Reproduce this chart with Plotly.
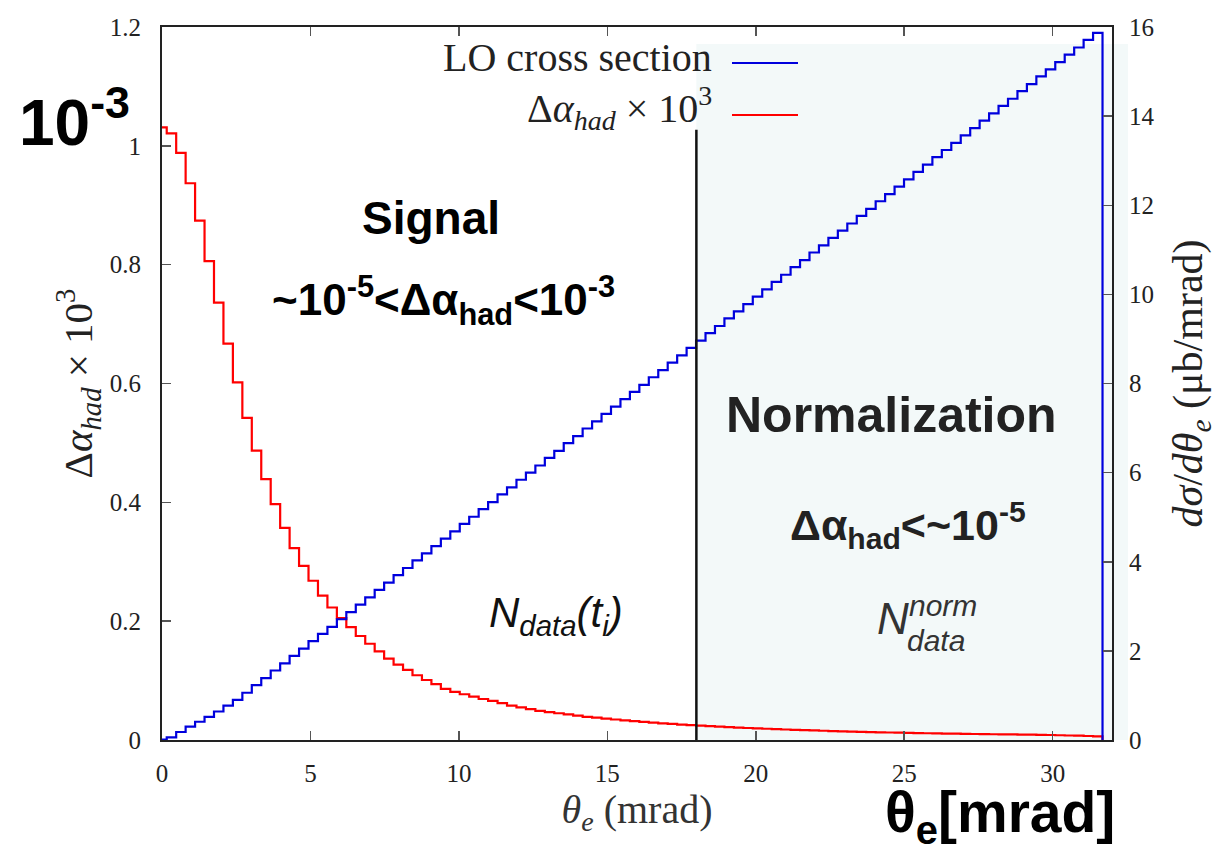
import plotly.graph_objects as go

# ---------------- data ----------------
BIN_WIDTH = 0.3184          # mrad, histogram bins centred on k*BIN_WIDTH
NORM_START = 18.0           # start of normalization region (mrad)
X_MAX = 32.0

# Delta alpha_had x 10^3 per bin (left axis)
dalpha_had = [
    1.031, 1.021, 0.988, 0.937, 0.874, 0.806, 0.736, 0.667, 0.602, 0.542,
    0.487, 0.439, 0.397, 0.357, 0.323, 0.293, 0.268, 0.243, 0.223, 0.205,
    0.190, 0.175, 0.162, 0.149, 0.137, 0.127, 0.118, 0.109, 0.101, 0.094,
    0.086, 0.081, 0.077, 0.073, 0.069, 0.066, 0.062, 0.058, 0.055, 0.052,
    0.049, 0.047, 0.045, 0.043, 0.041, 0.039, 0.0375, 0.036, 0.0345, 0.033,
    0.0317, 0.0304, 0.0292, 0.028, 0.027, 0.026, 0.025, 0.0241, 0.0232, 0.0224,
    0.0216, 0.0209, 0.0202, 0.0195, 0.0189, 0.0183, 0.0177, 0.0171, 0.0166, 0.0161,
    0.0156, 0.0151, 0.0146, 0.0142, 0.0138, 0.0134, 0.0130, 0.0126, 0.0123, 0.0120,
    0.0117, 0.0114, 0.0111, 0.0108, 0.0106, 0.0103, 0.0101, 0.0099, 0.0097, 0.0095,
    0.0093, 0.0091, 0.0089, 0.0087, 0.0084, 0.0080, 0.0076, 0.0072, 0.0067, 0.0062,
]

# LO cross section d sigma / d theta_e (mub/mrad) per bin (right axis)
lo_xsec = [
    0.01, 0.06, 0.18, 0.30, 0.41, 0.52, 0.64, 0.77, 0.90, 1.06,
    1.23, 1.39, 1.56, 1.72, 1.89, 2.05, 2.22, 2.38, 2.54, 2.71,
    2.87, 3.04, 3.20, 3.37, 3.53, 3.70, 3.86, 4.03, 4.19, 4.35,
    4.52, 4.68, 4.85, 5.01, 5.18, 5.34, 5.51, 5.67, 5.84, 6.00,
    6.16, 6.33, 6.49, 6.66, 6.82, 6.99, 7.15, 7.32, 7.48, 7.65,
    7.81, 7.97, 8.14, 8.30, 8.47, 8.63, 8.80, 8.96, 9.13, 9.29,
    9.46, 9.62, 9.78, 9.95, 10.11, 10.28, 10.44, 10.61, 10.77, 10.94,
    11.10, 11.27, 11.43, 11.59, 11.76, 11.92, 12.09, 12.25, 12.42, 12.58,
    12.75, 12.91, 13.08, 13.24, 13.40, 13.57, 13.73, 13.90, 14.06, 14.23,
    14.39, 14.56, 14.72, 14.89, 15.05, 15.21, 15.38, 15.54, 15.71, 15.87,
]

x_ticks = [0, 5, 10, 15, 20, 25, 30]
y_left_ticks = [0, 0.2, 0.4, 0.6, 0.8, 1.0, 1.2]
y_right_ticks = [0, 2, 4, 6, 8, 10, 12, 14, 16]

legend_labels = ["LO cross section", "Δ<i>α</i><sub><i>had</i></sub> × 10<sup>3</sup>"]

# ---------------- build step paths from bins ----------------
n = len(dalpha_had)
left_edges = [(k - 0.5) * BIN_WIDTH for k in range(n)]
last_edge = (n - 0.5) * BIN_WIDTH


def step_path(vals):
    xs = left_edges + [last_edge, last_edge]
    ys = list(vals) + [vals[-1], 0]
    return xs, ys


xr, yr = step_path(dalpha_had)
xb, yb = step_path(lo_xsec)

SERIF = "Liberation Serif"
SANS = "Liberation Sans"

fig = go.Figure()
fig.add_trace(go.Scatter(x=xb, y=yb, mode="lines", line=dict(color="#0000dd", width=2.2, shape="hv"),
                         yaxis="y2", showlegend=False, hoverinfo="skip"))
fig.add_trace(go.Scatter(x=xr, y=yr, mode="lines", line=dict(color="#ff0000", width=2.2, shape="hv"),
                         yaxis="y", showlegend=False, hoverinfo="skip"))

L, R, T, B = 162, 105, 27, 105
W, H = 1217, 845
PW, PH = W - L - R, H - T - B


def px2paper(px, py):
    return (px - L) / PW, (H - B - py) / PH


shapes = []
# normalization region shading (extends slightly past the right axis)
_, y1p = px2paper(0, 44)
x1p, _ = px2paper(1128, 0)
shapes.append(dict(type="rect", xref="paper", yref="paper",
                   x0=NORM_START / X_MAX, x1=x1p, y0=0, y1=y1p,
                   fillcolor="#f3f9f9", line=dict(width=0), layer="below"))
# vertical separator
shapes.append(dict(type="line", xref="x", yref="y", x0=NORM_START, x1=NORM_START, y0=0, y1=1.027,
                   line=dict(color="#111111", width=2.5)))
# legend line samples
for i, col in enumerate(["#0000dd", "#ff0000"]):
    py = [63, 115][i]
    a, b_ = px2paper(732, py)
    c, _ = px2paper(798, py)
    shapes.append(dict(type="line", xref="paper", yref="paper", x0=a, x1=c, y0=b_, y1=b_,
                       line=dict(color=col, width=2)))

annotations = []


def ann(text, px, py, size, family=SANS, color="#000", xanchor="center", yanchor="middle"):
    xp, yp = px2paper(px, py)
    annotations.append(dict(text=text, x=xp, y=yp, xref="paper", yref="paper", showarrow=False,
                            xanchor=xanchor, yanchor=yanchor,
                            font=dict(family=family, size=size, color=color)))


# legend texts
ann(legend_labels[0], 714, 58, 40, SERIF, "#222", xanchor="right")
ann(legend_labels[1], 714, 108, 40, SERIF, "#222", xanchor="right")

ann("<b>10<sup>-3</sup></b>", 74, 118, 64)
ann("<b>Signal</b>", 431, 218, 46)
ann("<b>~10<sup>-5</sup>&lt;Δα<sub>had</sub>&lt;10<sup>-3</sup></b>", 443, 300, 44)
ann("<b>Normalization</b>", 891, 415, 50, color="#222")
ann("<b>Δα<sub>had</sub>&lt;~10<sup>-5</sup></b>", 908, 525, 43, color="#222")
ann("<i>N</i><sub><i>data</i></sub><i>(t</i><sub><i>i</i></sub><i>)</i>", 556, 615, 42, color="#111")
ann("<i>N</i>", 893, 618, 44, color="#333")
ann("<i>norm</i>", 943, 605, 30, color="#333")
ann("<i>data</i>", 936, 640, 30, color="#333")
ann("<b>θ<sub>e</sub>[mrad]</b>", 1000, 816, 57)

axis_common = dict(showline=True, linecolor="#222", linewidth=2, ticks="inside", ticklen=9,
                   tickcolor="#555", tickwidth=1.5, showgrid=False, zeroline=False,
                   automargin=False,
                   tickfont=dict(family=SERIF, size=25, color="#222"))

fig.update_layout(
    width=W, height=H,
    margin=dict(l=L, r=R, t=T, b=B, pad=0, autoexpand=False),
    paper_bgcolor="white", plot_bgcolor="rgba(0,0,0,0)",
    showlegend=False,
    hovermode=False,
    xaxis=dict(range=[0, X_MAX], tickvals=x_ticks, mirror="ticks", ticklabelstandoff=10,
               title=dict(text="<i>θ</i><sub><i>e</i></sub> (mrad)",
                          font=dict(family=SERIF, size=40, color="#333"), standoff=6),
               **axis_common),
    yaxis=dict(range=[0, 1.2], tickvals=y_left_ticks, ticklabelstandoff=14,
               title=dict(text="Δ<i>α</i><sub><i>had</i></sub> × 10<sup>3</sup>",
                          font=dict(family=SERIF, size=41, color="#222"), standoff=4),
               **axis_common),
    yaxis2=dict(range=[0, 16], tickvals=y_right_ticks, overlaying="y", side="right",
                ticklabelstandoff=10,
                title=dict(text="<i>dσ</i>/<i>dθ</i><sub><i>e</i></sub> (μb/mrad)",
                           font=dict(family=SERIF, size=42, color="#222"), standoff=30),
                **axis_common),
    shapes=shapes,
    annotations=annotations,
)

fig.write_html("out.html", config={"displayModeBar": False, "staticPlot": True},
               post_script="document.body.style.margin='0px';document.body.style.overflow='hidden';")
